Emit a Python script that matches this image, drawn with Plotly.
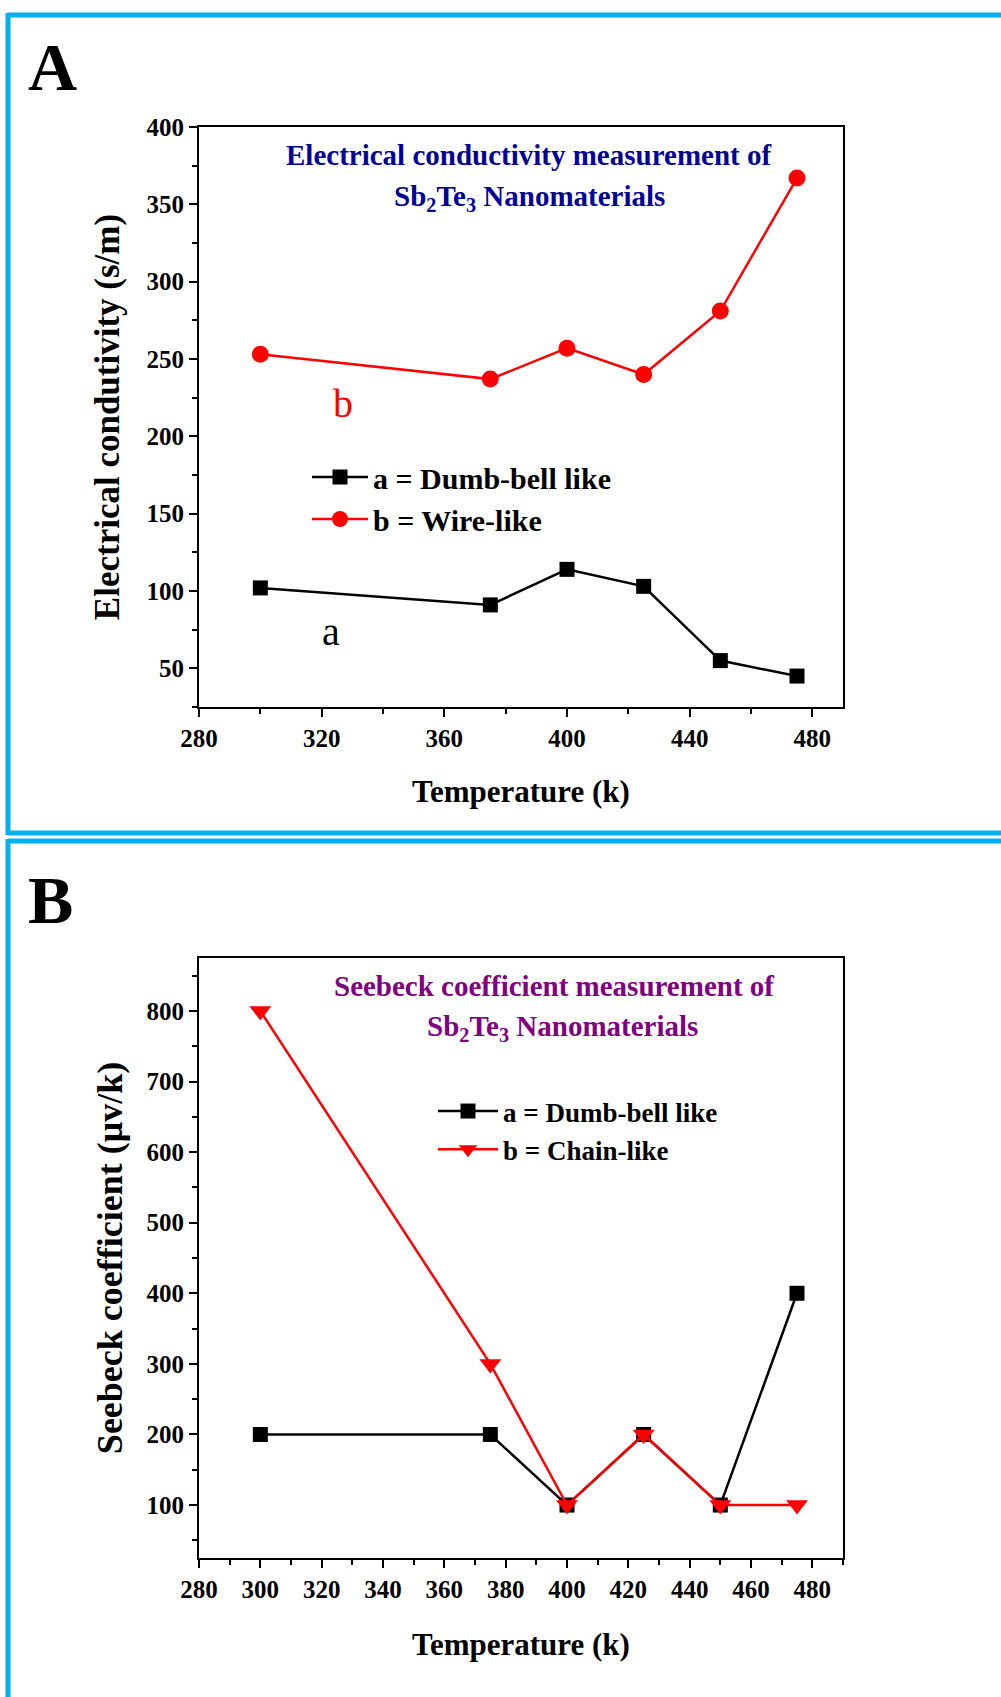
import plotly.graph_objects as go

# ---- data ----
temp = [300, 375, 400, 425, 450, 475]
cond_a = [102, 91, 114, 103, 55, 45]
cond_b = [253, 237, 257, 240, 281, 367]
seeb_a = [200, 200, 100, 200, 100, 400]
seeb_b = [800, 300, 100, 200, 100, 100]

W, H = 1001, 1697
FONT = "Liberation Serif"
BLUE = "#00B0F0"

def py(px):
    return 1 - px / H

def pxx(px):
    return px / W

fig = go.Figure()

# Panel A
fig.add_trace(go.Scatter(x=temp, y=cond_a, mode="lines+markers", name="a = Dumb-bell like",
                         line=dict(color="black", width=2.5),
                         marker=dict(symbol="square", size=15, color="black"),
                         xaxis="x", yaxis="y", legend="legend"))
fig.add_trace(go.Scatter(x=temp, y=cond_b, mode="lines+markers", name="b = Wire-like",
                         line=dict(color="red", width=2.5),
                         marker=dict(symbol="circle", size=17, color="red"),
                         xaxis="x", yaxis="y", legend="legend"))
# Panel B
fig.add_trace(go.Scatter(x=temp, y=seeb_a, mode="lines+markers", name="a = Dumb-bell like",
                         line=dict(color="black", width=2.5),
                         marker=dict(symbol="square", size=15, color="black"),
                         xaxis="x2", yaxis="y2", legend="legend2"))
fig.add_trace(go.Scatter(x=temp, y=seeb_b, mode="lines+markers", name="b = Chain-like",
                         line=dict(color="red", width=2.5),
                         marker=dict(symbol="triangle-down", size=19, color="red"),
                         xaxis="x2", yaxis="y2", legend="legend2"))

xdom = [pxx(199), pxx(843)]
tickfont = dict(family=FONT, size=25, color="black", weight="bold")
titlefont_x = dict(family=FONT, size=31, color="black", weight="bold")

common = dict(showline=True, linecolor="black", linewidth=2, mirror=True,
              ticks="outside", tickwidth=2, ticklen=8, tickcolor="black",
              showgrid=False, zeroline=False, tickfont=tickfont, automargin=False)

def minor(d):
    return dict(dtick=d, ticks="outside", ticklen=5, tickwidth=2, tickcolor="black")

fig.update_layout(
    width=W, height=H,
    margin=dict(l=0, r=0, t=0, b=0, autoexpand=False),
    paper_bgcolor="white", plot_bgcolor="white",
    xaxis=dict(domain=xdom, anchor="y", range=[280, 490], tick0=280, dtick=40, minor=minor(20),
               title=dict(text="Temperature (k)", font=titlefont_x, standoff=29), **common),
    yaxis=dict(domain=[py(707), py(127)], anchor="x", range=[25, 400], tick0=0, dtick=50, minor=minor(25),
               title=dict(text="Electrical condutivity (s/m)",
                          font=dict(family=FONT, size=35, color="black", weight="bold"), standoff=16),
               **common),
    xaxis2=dict(domain=xdom, anchor="y2", range=[280, 490], tick0=280, dtick=20, minor=minor(10),
                title=dict(text="Temperature (k)", font=titlefont_x, standoff=31), **common),
    yaxis2=dict(domain=[py(1558), py(958)], anchor="x2", range=[25, 875], tick0=0, dtick=100, minor=minor(50),
                title=dict(text="Seebeck coefficient (\u03bcv/k)",
                           font=dict(family=FONT, size=36, color="black", weight="bold"), standoff=13),
                **common),
    legend=dict(x=pxx(307), y=py(451), xanchor="left", yanchor="top", itemwidth=56,
                bgcolor="rgba(0,0,0,0)", tracegroupgap=0,
                font=dict(family=FONT, size=30, color="black", weight="bold")),
    legend2=dict(x=pxx(433), y=py(1087), xanchor="left", yanchor="top", itemwidth=60,
                 bgcolor="rgba(0,0,0,0)", tracegroupgap=0,
                 font=dict(family=FONT, size=27, color="black", weight="bold")),
    showlegend=True,
)

annotations = [
    dict(text="A", xref="paper", yref="paper", x=pxx(26), y=py(27), xanchor="left", yanchor="top",
         showarrow=False, font=dict(family=FONT, size=68, color="black", weight="bold")),
    dict(text="B", xref="paper", yref="paper", x=pxx(26), y=py(860), xanchor="left", yanchor="top",
         showarrow=False, font=dict(family=FONT, size=68, color="black", weight="bold")),
    dict(text="Electrical conductivity measurement of",
         xref="paper", yref="paper", x=pxx(528), y=py(155), xanchor="center", yanchor="middle",
         showarrow=False, font=dict(family=FONT, size=29, color="#000099", weight="bold")),
    dict(text="Sb<sub>2</sub>Te<sub>3</sub> Nanomaterials",
         xref="paper", yref="paper", x=pxx(529), y=py(198), xanchor="center", yanchor="middle",
         showarrow=False, font=dict(family=FONT, size=29, color="#000099", weight="bold")),
    dict(text="Seebeck coefficient measurement of",
         xref="paper", yref="paper", x=pxx(554), y=py(986), xanchor="center", yanchor="middle",
         showarrow=False, font=dict(family=FONT, size=29, color="#800080", weight="bold")),
    dict(text="Sb<sub>2</sub>Te<sub>3</sub> Nanomaterials",
         xref="paper", yref="paper", x=pxx(562), y=py(1028), xanchor="center", yanchor="middle",
         showarrow=False, font=dict(family=FONT, size=29, color="#800080", weight="bold")),
    dict(text="b", xref="x", yref="y", x=327, y=221, showarrow=False,
         font=dict(family=FONT, size=40, color="red")),
    dict(text="a", xref="x", yref="y", x=323, y=74, showarrow=False,
         font=dict(family=FONT, size=40, color="black")),
]
fig.update_layout(annotations=annotations)

shapes = [
    # panel A frame
    dict(type="line", xref="paper", yref="paper", x0=pxx(8), x1=1.01, y0=py(15), y1=py(15),
         line=dict(color=BLUE, width=5)),
    dict(type="line", xref="paper", yref="paper", x0=pxx(8), x1=pxx(8), y0=py(13), y1=py(835),
         line=dict(color=BLUE, width=5)),
    dict(type="line", xref="paper", yref="paper", x0=pxx(8), x1=1.01, y0=py(833), y1=py(833),
         line=dict(color=BLUE, width=5)),
    # panel B frame
    dict(type="line", xref="paper", yref="paper", x0=pxx(8), x1=1.01, y0=py(841), y1=py(841),
         line=dict(color=BLUE, width=5)),
    dict(type="line", xref="paper", yref="paper", x0=pxx(8), x1=pxx(8), y0=py(839), y1=-0.01,
         line=dict(color=BLUE, width=5)),
]
fig.update_layout(shapes=shapes)

fig.write_html("out.html")
